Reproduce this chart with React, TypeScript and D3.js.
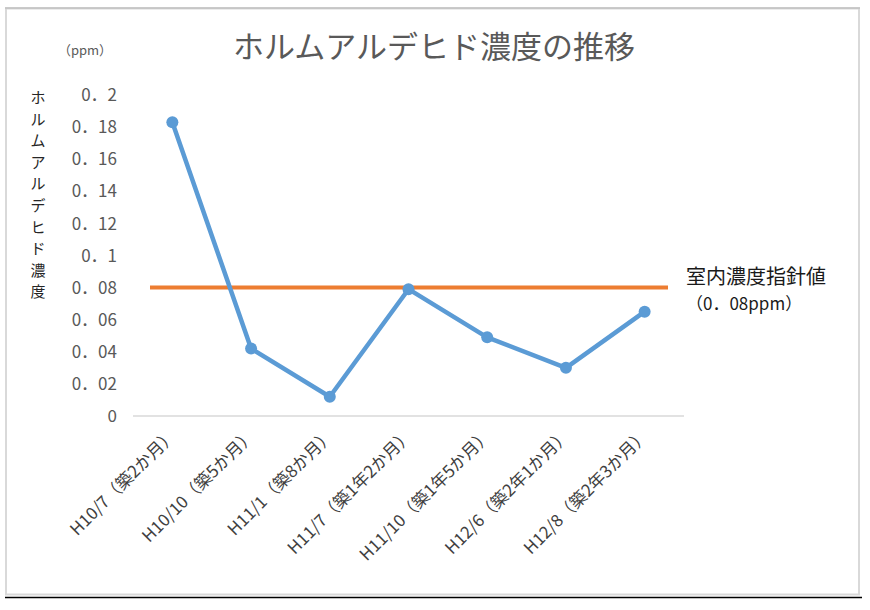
import React, { useEffect, useRef } from 'react'
import * as d3 from 'd3'

const categories = [
  'H10/7（築2か月）',
  'H10/10（築5か月）',
  'H11/1（築8か月）',
  'H11/7（築1年2か月）',
  'H11/10（築1年5か月）',
  'H12/6（築2年1か月）',
  'H12/8（築2年3か月）',
]
const values = [0.183, 0.042, 0.012, 0.079, 0.049, 0.03, 0.065]
const guideValue = 0.08
const yTicks = [0, 0.02, 0.04, 0.06, 0.08, 0.1, 0.12, 0.14, 0.16, 0.18, 0.2]
const yTickLabels = ['0', '0．02', '0．04', '0．06', '0．08', '0．1', '0．12', '0．14', '0．16', '0．18', '0．2']
const title = 'ホルムアルデヒド濃度の推移'
const yTitle = 'ホルムアルデヒド濃度'
const guideLabel = ['室内濃度指針値', '（0．08ppm）']

const W = 870
const H = 610
const FONT = '"Noto Sans CJK JP", "Noto Sans", sans-serif'

const x = d3.scaleBand().domain(categories).range([133, 684])
const y = d3.scaleLinear().domain([0, 0.2]).range([416, 95])

const App = () => {
  const ref = useRef<SVGSVGElement>(null)

  useEffect(() => {
    const svg = d3.select(ref.current)
    svg.selectAll('*').remove()
    svg.attr('font-family', FONT)

    // frame
    svg.append('rect').attr('width', W).attr('height', H).attr('fill', '#fff')
    svg
      .append('rect')
      .attr('x', 6)
      .attr('y', 8.5)
      .attr('width', 853)
      .attr('height', 586)
      .attr('fill', 'none')
      .attr('stroke', '#d9d9d9')
      .attr('stroke-width', 2)
    svg.append('line').attr('x1', 5).attr('x2', 860).attr('y1', 8).attr('y2', 8).attr('stroke', '#bfbfbf').attr('stroke-width', 1.5)
    svg.append('line').attr('x1', 5).attr('x2', 862).attr('y1', 597.5).attr('y2', 597.5).attr('stroke', '#000').attr('stroke-width', 1.5)

    // title
    svg
      .append('text')
      .attr('x', 434)
      .attr('y', 58)
      .attr('text-anchor', 'middle')
      .attr('font-size', 31)
      .attr('fill', '#595959')
      .text(title)

    svg
      .append('text')
      .attr('x', 85)
      .attr('y', 55)
      .attr('text-anchor', 'middle')
      .attr('font-size', 13)
      .attr('fill', '#595959')
      .text('（ppm）')

    // y title, vertical
    svg
      .append('g')
      .selectAll('text')
      .data(yTitle.split(''))
      .join('text')
      .attr('x', 38)
      .attr('y', (d, i) => 103 + i * 21.6)
      .attr('text-anchor', 'middle')
      .attr('font-size', 15)
      .attr('fill', '#262626')
      .text((d) => d)

    // y tick labels
    svg
      .append('g')
      .selectAll('text')
      .data(yTicks)
      .join('text')
      .attr('x', 117)
      .attr('y', (d) => y(d))
      .attr('dy', '0.36em')
      .attr('text-anchor', 'end')
      .attr('font-size', 17)
      .attr('fill', '#595959')
      .text((d, i) => yTickLabels[i])

    // baseline
    svg
      .append('line')
      .attr('x1', x.range()[0])
      .attr('x2', x.range()[1])
      .attr('y1', y(0))
      .attr('y2', y(0))
      .attr('stroke', '#d9d9d9')
      .attr('stroke-width', 1.5)

    // x labels
    svg
      .append('g')
      .selectAll('text')
      .data(categories)
      .join('text')
      .attr('transform', (d) => `translate(${(x(d) as number) + x.bandwidth() / 2 + 1},${432}) rotate(-45)`)
      .attr('text-anchor', 'end')
      .attr('dy', '0.35em')
      .attr('font-size', 17)
      .attr('fill', '#404040')
      .text((d) => d)

    // guide line
    svg
      .append('line')
      .attr('x1', 150)
      .attr('x2', 668)
      .attr('y1', y(guideValue))
      .attr('y2', y(guideValue))
      .attr('stroke', '#ED7D31')
      .attr('stroke-width', 4)

    svg
      .append('g')
      .selectAll('text')
      .data(guideLabel)
      .join('text')
      .attr('x', (d, i) => (i === 0 ? 686 : 686))
      .attr('y', (d, i) => 284 + i * 26)
      .attr('font-size', (d, i) => (i === 0 ? 20 : 17))
      .attr('fill', '#1a1a1a')
      .text((d) => d)

    // series
    const cx = (d: string) => (x(d) as number) + x.bandwidth() / 2
    const line = d3
      .line<number>()
      .x((d, i) => cx(categories[i]))
      .y((d) => y(d))
    svg
      .append('path')
      .datum(values)
      .attr('d', line)
      .attr('fill', 'none')
      .attr('stroke', '#5B9BD5')
      .attr('stroke-width', 4.5)
      .attr('stroke-linejoin', 'round')
    svg
      .append('g')
      .selectAll('circle')
      .data(values)
      .join('circle')
      .attr('cx', (d, i) => cx(categories[i]))
      .attr('cy', (d) => y(d))
      .attr('r', 6)
      .attr('fill', '#5B9BD5')
  })

  return (
    <svg
      ref={ref}
      width={W}
      height={H}
      style={{ position: 'absolute', left: 0, top: 0, display: 'block' }}
    ></svg>
  )
}

export default App
